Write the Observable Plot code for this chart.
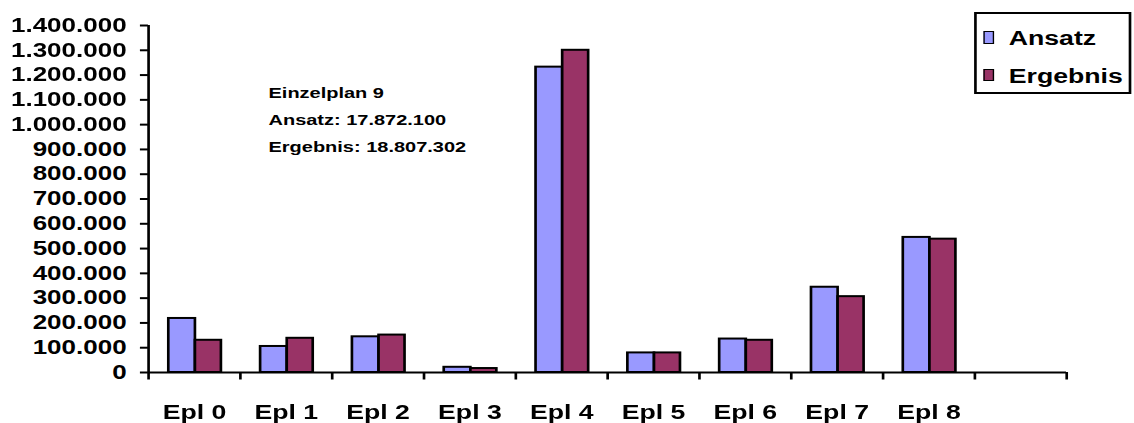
<!DOCTYPE html>
<html>
<head>
<meta charset="utf-8">
<script src="https://cdn.jsdelivr.net/npm/d3@7"></script>
<script src="https://cdn.jsdelivr.net/npm/@observablehq/plot@0.6"></script>
<style>
  html, body { margin: 0; padding: 0; background: #fff; }
  body { width: 1134px; height: 423px; overflow: hidden; }
  #wrap {
    position: relative;
    width: 851px;
    height: 423px;
    transform: scaleX(1.33255);
    transform-origin: 0 0;
    font-family: "Liberation Sans", Arial, sans-serif;
    font-weight: bold;
  }
  #wrap svg { display: block; overflow: visible; }
  #legend {
    position: absolute;
    left: 731px;
    top: 12px;
    width: 118px;
    height: 82px;
    box-sizing: border-box;
    border: 2px solid #000;
    background: #fff;
  }
  #legend .item {
    position: absolute;
    left: 4.5px;
    height: 20px;
    line-height: 20px;
    font-size: 20px;
    color: #000;
    white-space: nowrap;
  }
  #legend .sw {
    position: absolute;
    left: 0;
    top: 3px;
    width: 8.5px;
    height: 12.5px;
    box-sizing: border-box;
    border: 1.5px solid #000;
  }
  #legend .lbl { position: absolute; left: 19.5px; top: 0; }
</style>
</head>
<body>
<div id="wrap"></div>
<script>
// Einzelpläne (Epl 0 … Epl 8), values in Euro
const categories = ["Epl 0", "Epl 1", "Epl 2", "Epl 3", "Epl 4", "Epl 5", "Epl 6", "Epl 7", "Epl 8"];
const ansatz   = [218000, 105000, 144000, 21000, 1232000, 79000, 135000, 344000, 545000];
const ergebnis = [130000, 138000, 151000, 16000, 1300000, 79000, 130000, 306000, 538000];
const seriesNames = ["Ansatz", "Ergebnis"];
const seriesColors = ["#9999FF", "#993366"];
const yTicks = [0, 100000, 200000, 300000, 400000, 500000, 600000, 700000,
                800000, 900000, 1000000, 1100000, 1200000, 1300000, 1400000];
const noteLines = ["Einzelplan 9", "Ansatz: 17.872.100", "Ergebnis: 18.807.302"];

// one empty slot after the last Einzelplan
const xDomain = [...categories, " "];
const rows = categories.map((c, i) => ({cat: c, ansatz: ansatz[i], ergebnis: ergebnis[i]}));

const deDE = d3.formatLocale({decimal: ",", thousands: ".", grouping: [3], currency: ["", " €"]});
const fmt = deDE.format(",d");

const W = 851, H = 423, mL = 111, mR = 51, mT = 25, mB = 51;
const step = (W - mL - mR) / xDomain.length;
const font = {fontSize: 19.5, fontWeight: "bold"};

const chart = Plot.plot({
  width: W,
  height: H,
  marginLeft: mL,
  marginRight: mR,
  marginTop: mT,
  marginBottom: mB,
  style: {fontFamily: "'Liberation Sans', Arial, sans-serif", background: "#fff", color: "#000"},
  x: {domain: xDomain, padding: 0, round: false, label: null},
  y: {domain: [0, 1400000], label: null},
  marks: [
    Plot.barY(rows, {x: "cat", y: "ansatz", fill: seriesColors[0], stroke: "#000", strokeWidth: 2,
      insetLeft: step * 0.222, insetRight: step * (1 - 0.512)}),
    Plot.barY(rows, {x: "cat", y: "ergebnis", fill: seriesColors[1], stroke: "#000", strokeWidth: 2,
      insetLeft: step * 0.512, insetRight: step * (1 - 0.795)}),
    // value axis
    Plot.axisY({ticks: yTicks, tickFormat: fmt, tickSize: 6, tickPadding: 10.5, strokeWidth: 2, label: null, ...font}),
    Plot.ruleX([xDomain[0]], {y1: 0, y2: 1400000, dx: -step / 2, strokeWidth: 2}),
    // category axis: baseline, boundary ticks, labels
    Plot.ruleY([0], {strokeWidth: 2}),
    Plot.axisX({ticks: xDomain, tickSize: 7.5, tickFormat: () => "", dx: -step / 2, strokeWidth: 2, label: null}),
    Plot.axisX({ticks: [xDomain[xDomain.length - 1]], tickSize: 7.5, tickFormat: () => "", dx: step / 2, strokeWidth: 2, label: null}),
    Plot.axisX({tickSize: 0, tickPadding: 32, fontSize: 20, fontWeight: "bold", label: null}),
    // Einzelplan 9 note
    Plot.text([noteLines.join("\n")], {
      frameAnchor: "top-left", textAnchor: "start", lineAnchor: "top",
      dx: 90, dy: 53, lineHeight: 1.82, fontSize: 15, fontWeight: "bold", fill: "#000"
    })
  ]
});

const wrap = document.getElementById("wrap");
wrap.appendChild(chart);

// legend box
const legend = document.createElement("div");
legend.id = "legend";
const rowTops = [14, 51.5];
seriesNames.forEach((name, i) => {
  const item = document.createElement("div");
  item.className = "item";
  item.style.top = rowTops[i] + "px";
  const sw = document.createElement("span");
  sw.className = "sw";
  sw.style.background = seriesColors[i];
  const lbl = document.createElement("span");
  lbl.className = "lbl";
  lbl.textContent = name;
  item.appendChild(sw);
  item.appendChild(lbl);
  legend.appendChild(item);
});
wrap.appendChild(legend);
</script>
</body>
</html>
